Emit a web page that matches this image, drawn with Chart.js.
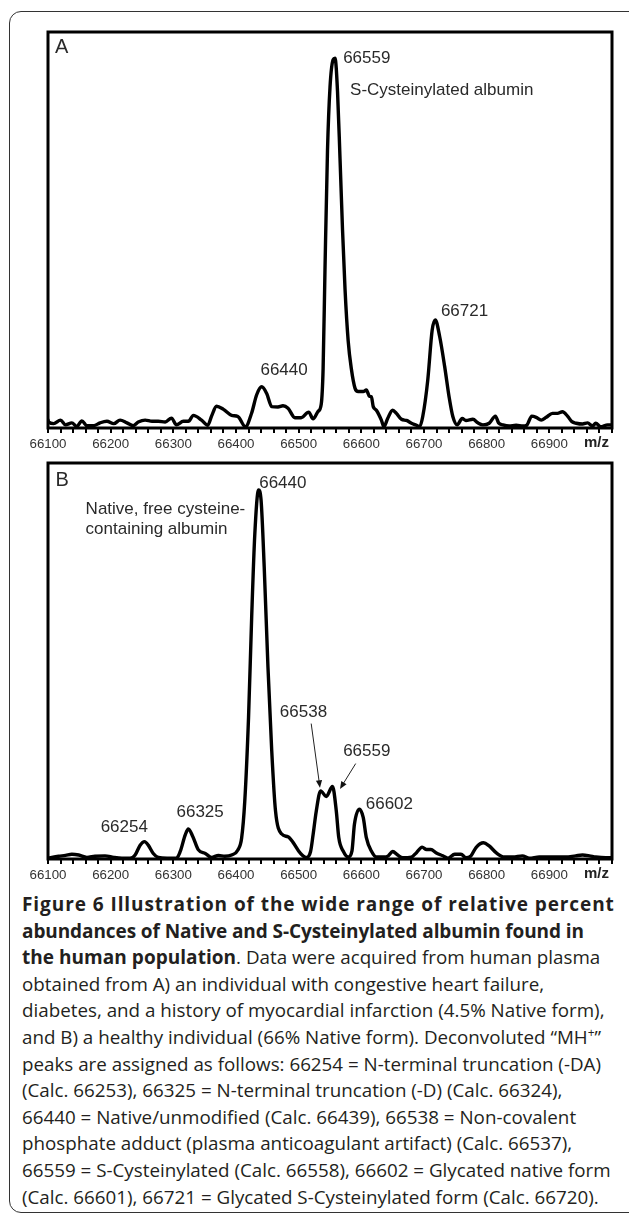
<!DOCTYPE html>
<html>
<head>
<meta charset="utf-8">
<script src="https://cdn.jsdelivr.net/npm/chart.js@4.4.0/dist/chart.umd.min.js"></script>
<style>
  body { margin: 0; background: #fff; width: 629px; height: 1223px; overflow: hidden; position: relative; }
  #box { position: absolute; left: 9px; top: 11px; width: 640px; height: 1200px; border: 1.5px solid #333; border-radius: 12px; }
  .wrap { position: absolute; left: 0; width: 629px; height: 460px; }
  #wrapA { top: 0; }
  #wrapB { top: 431px; }
  #caption { position: absolute; left: 22px; top: 891px; font-family: 'Open Sans', sans-serif; font-size: 18.8px; line-height: 26.6px; color: #231f20; white-space: nowrap; }
  #caption b { font-weight: 700; font-size: 19px; }
  #caption sup { font-size: 12px; line-height: 0; }
</style>
</head>
<body>
<div id="box"></div>
<div class="wrap" id="wrapA"><canvas id="chartA" width="629" height="460"></canvas></div>
<div class="wrap" id="wrapB"><canvas id="chartB" width="629" height="460"></canvas></div>
<div id="caption">
<b data-w="593">Figure 6 Illustration of the wide range of relative percent</b><br>
<b data-w="562">abundances of Native and S-Cysteinylated albumin found in</b><br>
<b data-w="214">the human population</b>. Data were acquired from human plasma<br>
obtained from A) an individual with congestive heart failure,<br>
diabetes, and a history of myocardial infarction (4.5% Native form),<br>
and B) a healthy individual (66% Native form). Deconvoluted “MH<sup>+</sup>”<br>
peaks are assigned as follows: 66254 = N-terminal truncation (-DA)<br>
(Calc. 66253), 66325 = N-terminal truncation (-D) (Calc. 66324),<br>
66440 = Native/unmodified (Calc. 66439), 66538 = Non-covalent<br>
phosphate adduct (plasma anticoagulant artifact) (Calc. 66537),<br>
66559 = S-Cysteinylated (Calc. 66558), 66602 = Glycated native form<br>
(Calc. 66601), 66721 = Glycated S-Cysteinylated form (Calc. 66720).
</div>
<script>
// panel A: heart failure patient, mostly S-cysteinylated
const mzA = [66100, 66101, 66109, 66120, 66128, 66138, 66146, 66154, 66162, 66173,
  66183, 66194, 66205, 66215, 66226, 66236, 66244, 66255, 66266, 66276,
  66287, 66297, 66305, 66316, 66324, 66332, 66345, 66355, 66361, 66369,
  66380, 66393, 66403, 66415, 66425, 66433, 66441, 66449, 66457, 66467,
  66475, 66483, 66494, 66504, 66516, 66523, 66531, 66536, 66539, 66542,
  66546, 66550, 66555, 66558, 66562, 66566, 66570, 66574, 66579, 66584,
  66590, 66595, 66603, 66608, 66613, 66616, 66619, 66624, 66632, 66636,
  66642, 66650, 66656, 66664, 66672, 66680, 66688, 66693, 66698, 66706,
  66713, 66718, 66725, 66733, 66740, 66746, 66753, 66761, 66767, 66778,
  66786, 66794, 66804, 66814, 66819, 66826, 66836, 66847, 66858, 66864,
  66872, 66879, 66887, 66895, 66905, 66913, 66921, 66929, 66936, 66943,
  66953, 66961, 66969, 66974, 66982, 66993, 67000];
const intensityA = [2.0, 1.5, 1.1, 2.0, 0.8, 1.3, 0.4, 1.8, 0.6, 0.6,
  1.3, 1.7, 1.1, 2.0, 1.3, 0.6, 1.5, 2.0, 1.7, 1.7,
  1.5, 2.5, 0.8, 1.7, 1.7, 3.2, 2.0, 0.7, 3.0, 5.5,
  4.7, 3.2, 2.9, 0.3, 3.8, 8.4, 10.4, 8.7, 5.4, 5.3,
  5.6, 5.0, 2.6, 2.6, 4.0, 2.3, 4.2, 6.0, 15, 40,
  70, 86, 93, 93.4, 85, 68, 50, 35, 22, 15,
  10, 9.2, 9.2, 9.6, 8.0, 7.9, 5.4, 4.5, 2.0, 0.3,
  2.4, 4.5, 3.7, 2.2, 1.9, 1.2, 0.7, 0.3, 2.9, 12.1,
  24.7, 27.3, 23.1, 15.5, 7.9, 2.9, 0.8, 2.4, 1.9, 2.2,
  1.3, 0.8, 1.2, 3.0, 1.3, 0.8, 0.5, 0.7, 0.5, 0.7,
  3.0, 2.7, 2.0, 2.7, 3.7, 3.7, 4.1, 3.0, 1.6, 1.2,
  1.0, 1.3, 0.5, 1.2, 0.3, 0.8, 0.8];

// panel B: healthy individual, mostly native
const mzB = [66100, 66106, 66117, 66128, 66138, 66149, 66162, 66175, 66191, 66205,
  66218, 66231, 66239, 66247, 66254, 66260, 66268, 66276, 66290, 66305,
  66311, 66319, 66324, 66331, 66340, 66351, 66361, 66372, 66382, 66393,
  66403, 66409, 66414, 66420, 66425, 66430, 66436, 66440, 66445, 66451,
  66457, 66463, 66473, 66483, 66491, 66502, 66512, 66519, 66523, 66528,
  66535, 66544, 66554, 66560, 66564, 66571, 66579, 66585, 66589, 66597,
  66603, 66608, 66616, 66624, 66637, 66643, 66650, 66658, 66666, 66680,
  66688, 66697, 66704, 66711, 66719, 66730, 66738, 66749, 66759, 66767,
  66775, 66783, 66795, 66804, 66815, 66828, 66842, 66857, 66868, 66884,
  66900, 66911, 66926, 66942, 66953, 66964, 66974, 66990, 67000];
const intensityB = [0.2, 0.4, 0.7, 0.9, 1.2, 1.0, 0.4, 0.7, 0.8, 0.4,
  0.2, 0.2, 1.0, 3.5, 4.4, 3.5, 1.4, 0.4, 0.2, 0.2,
  1.9, 6.1, 7.6, 5.7, 2.3, 1.4, 0.4, 0.9, 0.7, 1.0,
  2.3, 5.3, 14.6, 35.7, 61, 82, 93.2, 90.6, 73.8, 48.5,
  27.4, 12.2, 6.3, 5.6, 4.2, 1.6, 0.4, 1.9, 6.1, 12.0,
  17.2, 15.8, 18.3, 12.2, 5.4, 2.0, 0.5, 2.0, 8.8, 12.6,
  10.5, 5.4, 2.0, 0.5, 0.5, 0.8, 1.9, 1.0, 0.3, 0.5,
  1.6, 3.0, 2.4, 2.4, 1.6, 0.8, 0.2, 1.2, 1.2, 0.3,
  0.8, 2.9, 4.1, 3.3, 1.6, 0.5, 0.5, 0.8, 0.2, 0.5,
  0.5, 0.5, 0.5, 0.8, 1.0, 0.8, 0.5, 0.3, 0.3];

// x axis
const mzMin = 66100;
const mzMax = 67000;
const mzStep = 20;

// peak labels, anchored at (m/z, intensity)
const labelTextA = ['A', '66559', 'S-Cysteinylated albumin', '66721', '66440'];
const labelMzA = [66111, 66571, 66582, 66727, 66439];
const labelLevelA = [96.2, 93.3, 85.2, 29.4, 14.6];

const labelTextB = ['B', '66440', 'Native, free cysteine-', 'containing albumin',
  '66254', '66325', '66538', '66559', '66602'];
const labelMzB = [66112, 66437, 66160, 66160, 66184, 66305, 66470, 66571, 66607];
const labelLevelB = [95.7, 94.8, 88.2, 83.2, 8.0, 11.8, 37.1, 27.3, 13.8];

// arrows in B: from (mz, level) to (mz, level)
const arrowFromMzB = [66520, 66591];
const arrowFromLevelB = [34.2, 24.1];
const arrowToMzB = [66534, 66566];
const arrowToLevelB = [18.0, 17.7];

const FONT = "'Liberation Sans', Arial, sans-serif";

function makePoints(xs, ys) {
    return xs.map((x, i) => ({ x: x, y: ys[i] }));
}

// frame box, peak labels, arrows and the m/z label
const decorPlugin = {
    id: 'decor',
    afterDatasetsDraw(chart, args, opts) {
        const ctx = chart.ctx;
        const area = chart.chartArea;
        const xs = chart.scales.x;
        const ys = chart.scales.y;
        ctx.save();
        ctx.strokeStyle = '#000';
        ctx.lineWidth = 3;
        ctx.strokeRect(area.left, area.top, area.right - area.left, area.bottom - area.top);

        ctx.fillStyle = '#2a2a2a';
        ctx.textBaseline = 'middle';
        ctx.textAlign = 'left';
        opts.texts.forEach((t, i) => {
            const big = (t === 'A' || t === 'B');
            ctx.font = (big ? '20px ' : '17px ') + FONT;
            ctx.fillText(t, xs.getPixelForValue(opts.mz[i]), ys.getPixelForValue(opts.level[i]));
        });

        (opts.arrowFromMz || []).forEach((m, i) => {
            const x1 = xs.getPixelForValue(m);
            const y1 = ys.getPixelForValue(opts.arrowFromLevel[i]);
            const x2 = xs.getPixelForValue(opts.arrowToMz[i]);
            const y2 = ys.getPixelForValue(opts.arrowToLevel[i]);
            const ang = Math.atan2(y2 - y1, x2 - x1);
            ctx.strokeStyle = '#222';
            ctx.lineWidth = 1;
            ctx.beginPath();
            ctx.moveTo(x1, y1);
            ctx.lineTo(x2 - 5 * Math.cos(ang), y2 - 5 * Math.sin(ang));
            ctx.stroke();
            ctx.fillStyle = '#111';
            ctx.beginPath();
            ctx.moveTo(x2, y2);
            ctx.lineTo(x2 - 8 * Math.cos(ang - 0.4), y2 - 8 * Math.sin(ang - 0.4));
            ctx.lineTo(x2 - 8 * Math.cos(ang + 0.4), y2 - 8 * Math.sin(ang + 0.4));
            ctx.closePath();
            ctx.fill();
        });

        ctx.fillStyle = '#222';
        ctx.font = 'bold 15px ' + FONT;
        ctx.textAlign = 'right';
        ctx.fillText('m/z', area.right - 3, area.bottom + 15);
        ctx.restore();
    }
};

function buildChart(id, xs, ys, texts, mz, level, arrows) {
    const ctx = document.getElementById(id).getContext('2d');
    const decor = Object.assign({ texts: texts, mz: mz, level: level }, arrows || {});
    return new Chart(ctx, {
        type: 'line',
        data: {
            datasets: [{
                data: makePoints(xs, ys),
                borderColor: '#000',
                borderWidth: 3.4,
                pointRadius: 0,
                fill: false,
                tension: 0.4,
                cubicInterpolationMode: 'monotone',
                borderJoinStyle: 'round',
                borderCapStyle: 'round'
            }]
        },
        options: {
            responsive: false,
            animation: false,
            events: [],
            layout: { padding: { top: 32, left: 48, right: 17, bottom: 0 } },
            scales: {
                x: {
                    type: 'linear',
                    min: mzMin,
                    max: mzMax,
                    border: { display: false },
                    grid: {
                        drawOnChartArea: false,
                        drawTicks: true,
                        tickLength: 5,
                        color: '#000',
                        lineWidth: 2
                    },
                    ticks: {
                        stepSize: mzStep,
                        autoSkip: false,
                        maxRotation: 0,
                        padding: 3,
                        color: '#333',
                        font: { family: FONT, size: 13.3 },
                        callback: function(v) {
                            return (v % 100 === 0 && v !== mzMax) ? String(v) : '';
                        }
                    },
                    afterFit: function(scale) { scale.height = 32; }
                },
                y: {
                    display: false,
                    min: 0,
                    max: 100
                }
            },
            plugins: {
                legend: { display: false },
                tooltip: { enabled: false },
                decor: decor
            }
        },
        plugins: [decorPlugin]
    });
}

buildChart('chartA', mzA, intensityA, labelTextA, labelMzA, labelLevelA);
buildChart('chartB', mzB, intensityB, labelTextB, labelMzB, labelLevelB, {
    arrowFromMz: arrowFromMzB,
    arrowFromLevel: arrowFromLevelB,
    arrowToMz: arrowToMzB,
    arrowToLevel: arrowToLevelB
});

// spread the bold caption runs to the widths they take in the print layout
function fitBold() {
    document.querySelectorAll('#caption b[data-w]').forEach(el => {
        el.style.letterSpacing = '0px';
        const natural = el.getBoundingClientRect().width;
        const n = el.textContent.length;
        const ls = (parseFloat(el.dataset.w) - natural) / n;
        el.style.letterSpacing = ls.toFixed(2) + 'px';
    });
}
fitBold();
if (document.fonts && document.fonts.ready) document.fonts.ready.then(fitBold);
</script>
</body>
</html>
